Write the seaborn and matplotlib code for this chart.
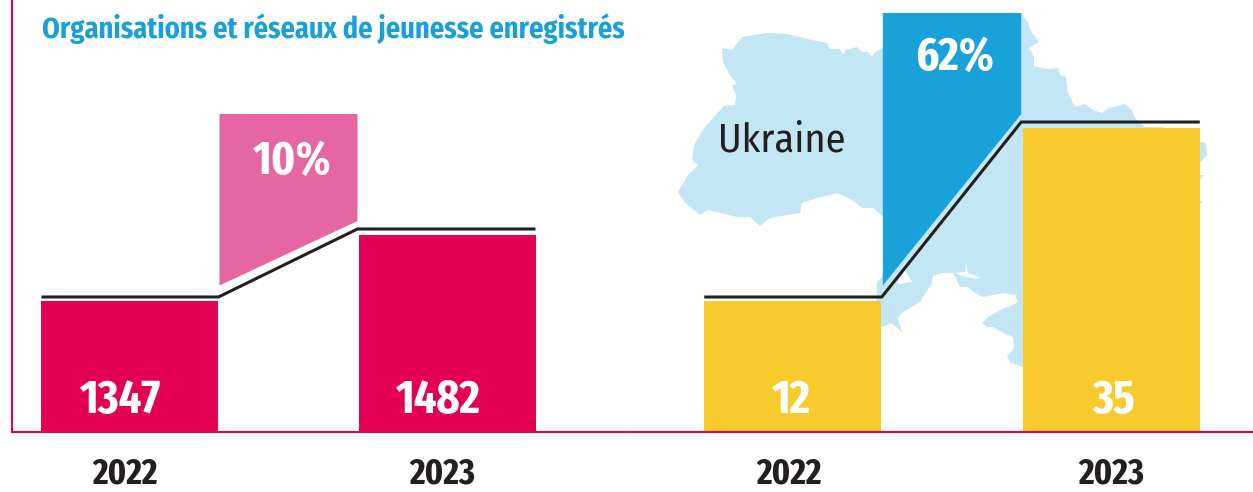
import pandas as pd
import seaborn as sns
import matplotlib.pyplot as plt
from matplotlib.patches import Polygon

# values
years = ['2022', '2023']
org_values = [1347, 1482]
ukraine_values = [12, 35]
org_change = '10%'
ukraine_change = '62%'
title = 'Organisations et réseaux de jeunesse enregistrés'

CRIMSON = '#E40055'
PINK = '#E566A0'
YELLOW = '#F7CB2B'
BLUE = '#18A2D9'
MAP_BLUE = '#C3E6F5'
DARK = '#231F20'

W, H = 1253, 492
BASE = 432  # pixel row of the x axis
BAR_W = 177 / 318
NUM_FONT = ['Fira Sans Extra Condensed', 'Fira Sans Condensed', 'Asap Condensed', 'Liberation Sans', 'DejaVu Sans']

# rough outline of the map, in image pixels (decoration only)
map_outline = [
    (722, 48), (732, 50), (742, 37), (767, 33), (787, 34), (807, 39), (827, 43), (830, 49),
    (840, 49), (843, 55), (845, 50), (857, 47), (862, 52), (868, 52), (872, 57), (875, 52),
    (883, 48), (1021, 14), (1028, 22), (1030, 30), (1039, 42), (1029, 48), (1034, 57), (1034, 66),
    (1047, 69), (1058, 68), (1060, 75), (1066, 77), (1068, 93), (1075, 107), (1085, 104), (1093, 110),
    (1102, 113), (1107, 109), (1125, 104), (1132, 110), (1135, 118), (1145, 127), (1163, 127), (1200, 142),
    (1206, 143), (1207, 155), (1200, 163), (1200, 175), (1204, 175), (1200, 180), (1200, 200), (1202, 202),
    (1200, 204), (1150, 360), (1023, 367), (1010, 362), (1007, 357), (1014, 348), (1013, 337), (1003, 333),
    (993, 327), (987, 327), (982, 323), (988, 317), (1000, 310), (1013, 305), (1018, 302), (1015, 295),
    (1003, 293), (983, 297), (975, 293), (967, 287), (960, 287), (953, 273), (942, 273), (933, 276),
    (932, 283), (920, 302), (910, 308), (902, 313), (898, 318), (902, 332), (892, 323), (882, 327),
    (876, 320), (877, 282), (882, 277), (890, 240), (883, 217), (873, 208), (862, 208), (852, 200),
    (838, 193), (817, 198), (802, 203), (800, 213), (770, 218), (760, 226), (750, 217), (737, 217),
    (708, 210), (700, 215), (685, 203), (678, 192), (688, 175), (698, 165), (700, 167), (692, 160),
    (694, 145), (704, 128), (724, 106), (735, 105), (736, 95), (732, 85), (737, 84), (730, 75),
    (723, 62),
]
sivash = [(955, 273), (965, 272), (966, 263), (968, 273), (980, 277), (978, 279), (965, 277)]
liman = [(897, 283), (905, 270), (912, 282), (900, 284)]


def px_y(ax, px):
    # size of one pixel in data units of this axes
    lo, hi = ax.get_ylim()
    return px * (hi - lo) / BASE


def px_x(ax, px):
    lo, hi = ax.get_xlim()
    return px * (hi - lo) / (ax.get_position().width * W)


def fig_text(x, y, s, **kw):
    return fig.text(x / W, 1 - y / H, s, va='center', ha='center', **kw)


def draw_panel(ax, values, color, arrow_color, arrow_height, xlim, ylim, label_shift):
    df = pd.DataFrame({'year': years, 'value': values})
    sns.barplot(data=df, x='year', y='value', color=color, saturation=1, width=BAR_W, ax=ax, zorder=2)
    ax.set_xlim(*xlim)
    ax.set_ylim(*ylim)
    # the picture's bars start at the cut axis, not at zero
    for bar, v in zip(ax.patches, values):
        bar.set_y(ylim[0])
        bar.set_height(v - ylim[0])
        bar.set_edgecolor('none')
    ax.patch.set_alpha(0)
    ax.set_xlabel('')
    ax.set_ylabel('')
    ax.set_yticks([])
    ax.set_xticks([label_shift[0], 1 + label_shift[1]], years, fontsize=26.5, fontweight='bold', color=DARK,
                  family=NUM_FONT)
    ax.tick_params(axis='x', length=0, pad=17)
    ax.grid(False)
    sns.despine(ax=ax, top=True, right=True, left=True)
    ax.spines['bottom'].set_color(CRIMSON)
    ax.spines['bottom'].set_linewidth(1.5)

    # step line above the bars and the arrow shape resting on it
    x0, x1 = BAR_W / 2, 1 - BAR_W / 2
    gap = px_y(ax, 4)
    xs = [-BAR_W / 2 + px_x(ax, 0.5), x0 + px_x(ax, 0.5), x1 - px_x(ax, 1.5), 1 + BAR_W / 2 - px_x(ax, 0.5)]
    ys = [values[0] + gap, values[0] + gap, values[1] + px_y(ax, 6), values[1] + px_y(ax, 6)]
    ax.plot(xs, ys, color=DARK, lw=2.2, solid_joinstyle='miter', solid_capstyle='butt', zorder=4, clip_on=False)
    arrow = [
        (x0 + px_x(ax, 1.5), values[1] + px_y(ax, arrow_height)),
        (x1 - px_x(ax, 1.5), values[1] + px_y(ax, arrow_height)),
        (x1 - px_x(ax, 1.5), values[1] + px_y(ax, 14)),
        (x0 + px_x(ax, 1.5), values[0] + px_y(ax, 15.5)),
    ]
    ax.add_patch(Polygon(arrow, closed=True, facecolor=arrow_color, edgecolor='none', zorder=3))


sns.set_style('white')
plt.rcParams['font.family'] = ['Fira Sans Condensed', 'Asap Condensed', 'Liberation Sans', 'DejaVu Sans']

fig = plt.figure(figsize=(W / 100, H / 100), dpi=100)

# map behind everything, axes in image pixels
bg = fig.add_axes([0, 0, 1, 1], zorder=0)
bg.set_xlim(0, W)
bg.set_ylim(H, 0)
bg.axis('off')
bg.add_patch(Polygon(map_outline, closed=True, facecolor=MAP_BLUE, edgecolor='none'))
bg.add_patch(Polygon(sivash, closed=True, facecolor='white', edgecolor='none'))
bg.add_patch(Polygon(liman, closed=True, facecolor='white', edgecolor='none'))

# left panel spans pixels 12..625, right panel 625..1253
left = fig.add_axes([12 / W, 1 - BASE / H, (625 - 12) / W, BASE / H], zorder=1)
right = fig.add_axes([625 / W, 1 - BASE / H, (W - 625) / W, BASE / H], zorder=1)

draw_panel(left, org_values, CRIMSON, PINK, 121,
           ((12 - 129.5) / 318, (625 - 129.5) / 318), (1079, 1962.7), (-0.014, -0.016))
draw_panel(right, ukraine_values, YELLOW, BLUE, 115,
           ((625 - 792.5) / 319, (W - 792.5) / 319), (-5.416, 52.02), (-0.011, 0))

left.spines['left'].set_visible(True)
left.spines['left'].set_color(CRIMSON)
left.spines['left'].set_linewidth(1.5)

fig.text(42 / W, 1 - 29 / H, title, color='#18A0D8', fontsize=20.4, fontweight='bold', va='center', ha='left')
fig_text(782, 141, 'Ukraine', color=DARK, fontsize=29)

for x, v in zip([120, 438], org_values):
    fig_text(x, 401, str(v), color='white', fontsize=34.5, fontweight='bold', family=NUM_FONT)
for x, v in zip([791, 1114], ukraine_values):
    fig_text(x, 401, str(v), color='white', fontsize=34.5, fontweight='bold', family=NUM_FONT)
fig_text(292, 162, org_change, color='white', fontsize=34.5, fontweight='bold', family=NUM_FONT)
fig_text(955, 58, ukraine_change, color='white', fontsize=34.5, fontweight='bold', family=NUM_FONT)

fig.savefig('out.png', dpi=100)
plt.close(fig)
